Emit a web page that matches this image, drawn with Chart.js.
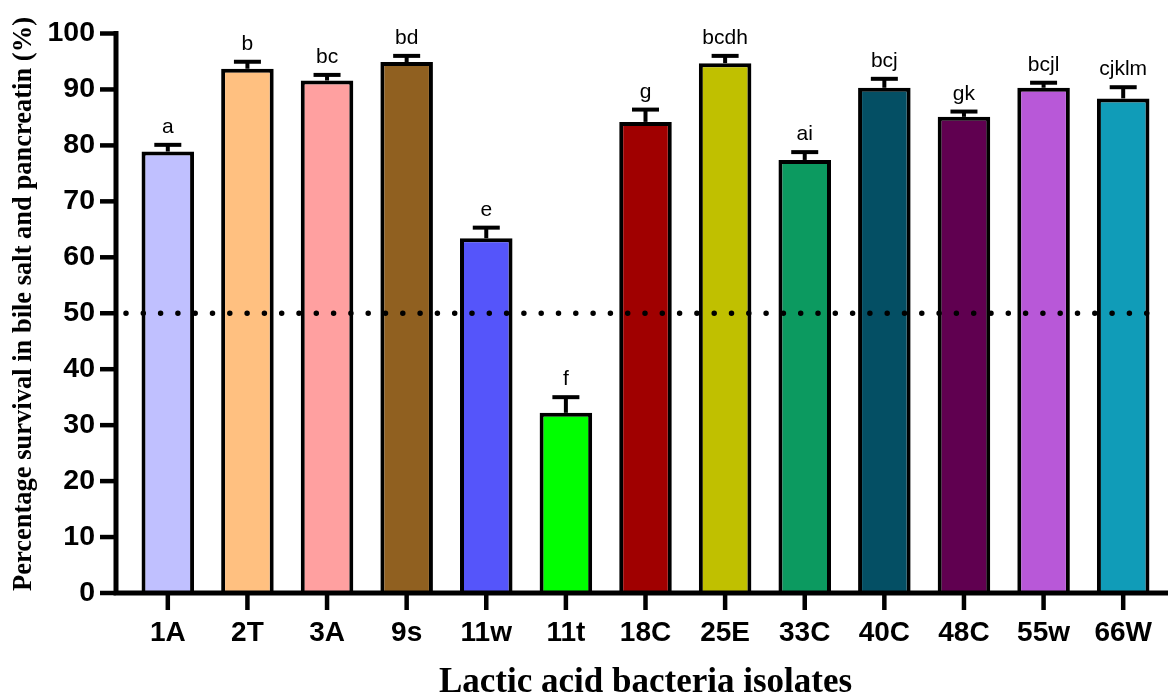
<!DOCTYPE html>
<html>
<head>
<meta charset="utf-8">
<script src="https://cdn.jsdelivr.net/npm/chart.js@4"></script>
<style>
html, body { margin: 0; padding: 0; background: #fff; }
#wrap { width: 1168px; height: 695px; }
</style>
</head>
<body>
<div id="wrap"><canvas id="myChart"></canvas></div>
<script>
const isolates = ["1A", "2T", "3A", "9s", "11w", "11t", "18C", "25E", "33C", "40C", "48C", "55w", "66W"];
const survival = [78.9, 93.7, 91.6, 94.9, 63.4, 32.2, 84.2, 94.7, 77.4, 90.3, 85.1, 90.3, 88.4];
const sem = [1.2, 1.25, 1.0, 1.1, 1.9, 2.8, 2.2, 1.3, 1.4, 1.6, 0.95, 0.9, 2.0];
const letters = ["a", "b", "bc", "bd", "e", "f", "g", "bcdh", "ai", "bcj", "gk", "bcjl", "cjklm"];
const barColors = [
	"rgb(192, 192, 255)",
	"rgb(255, 192, 128)",
	"rgb(255, 160, 160)",
	"rgb(144, 96, 32)",
	"rgb(85, 85, 250)",
	"rgb(0, 255, 0)",
	"rgb(160, 0, 0)",
	"rgb(192, 192, 0)",
	"rgb(12, 154, 96)",
	"rgb(4, 79, 100)",
	"rgb(96, 0, 80)",
	"rgb(184, 88, 216)",
	"rgb(16, 156, 184)",
];
const threshold = 50;
const yTitle = "Percentage survival in bile salt and pancreatin (%)";
const xTitle = "Lactic acid bacteria isolates";

const sans = "'Liberation Sans', Arial, sans-serif";
const serif = "'Liberation Serif', 'Times New Roman', serif";

// error bars, letters, dotted 50% line, the axes and the y title
const extras = {
	id: "extras",
	afterDatasetsDraw(chart) {
		const ctx = chart.ctx;
		const x = chart.scales.x;
		const y = chart.scales.y;
		const area = chart.chartArea;
		const meta = chart.getDatasetMeta(0);
		ctx.save();
		ctx.strokeStyle = "#000";
		ctx.fillStyle = "#000";

		meta.data.forEach((bar, i) => {
			const top = y.getPixelForValue(survival[i]);
			const cap = y.getPixelForValue(survival[i] + sem[i]);
			ctx.lineWidth = 4;
			ctx.lineCap = "butt";
			ctx.beginPath();
			ctx.moveTo(bar.x, top);
			ctx.lineTo(bar.x, cap);
			ctx.stroke();
			ctx.beginPath();
			ctx.moveTo(bar.x - 13.5, cap);
			ctx.lineTo(bar.x + 13.5, cap);
			ctx.stroke();
			ctx.font = "21px " + sans;
			ctx.textAlign = "center";
			ctx.textBaseline = "alphabetic";
			ctx.fillText(letters[i], bar.x, cap - 12);
		});

		const ty = y.getPixelForValue(threshold);
		ctx.lineWidth = 5.5;
		ctx.lineCap = "round";
		ctx.setLineDash([0, 17.3]);
		ctx.beginPath();
		ctx.moveTo(area.left - 2, ty);
		ctx.lineTo(area.right, ty);
		ctx.stroke();
		ctx.setLineDash([]);

		const ax = area.left - 12;
		ctx.lineCap = "butt";
		ctx.lineJoin = "miter";
		ctx.lineWidth = 5;
		ctx.beginPath();
		ctx.moveTo(ax, y.getPixelForValue(100) - 2.5);
		ctx.lineTo(ax, area.bottom);
		ctx.lineTo(chart.width, area.bottom);
		ctx.stroke();

		ctx.lineWidth = 4.5;
		y.ticks.forEach((t) => {
			const py = y.getPixelForValue(t.value);
			ctx.beginPath();
			ctx.moveTo(ax - 16, py);
			ctx.lineTo(ax, py);
			ctx.stroke();
		});
		x.ticks.forEach((t, i) => {
			const px = x.getPixelForTick(i);
			ctx.beginPath();
			ctx.moveTo(px, area.bottom);
			ctx.lineTo(px, area.bottom + 17);
			ctx.stroke();
		});

		ctx.translate(24, 304);
		ctx.rotate(-Math.PI / 2);
		ctx.font = "bold 26.5px " + serif;
		ctx.textAlign = "center";
		ctx.textBaseline = "middle";
		ctx.fillText(yTitle, 0, 0);
		ctx.restore();
	},
};

const barCanvas = document.getElementById("myChart");

const myChart = new Chart(barCanvas, {
	type: "bar",
	data: {
		labels: isolates,
		datasets: [
			{
				data: survival,
				backgroundColor: barColors,
				borderColor: "#000",
				borderWidth: 4,
				barPercentage: 0.66,
				categoryPercentage: 1,
			},
		],
	},
	options: {
		responsive: true,
		maintainAspectRatio: false,
		animation: false,
		layout: {
			autoPadding: false,
			padding: { left: 0, right: 5, top: 33.5, bottom: 0 },
		},
		plugins: {
			legend: { display: false },
			tooltip: { enabled: false },
		},
		scales: {
			x: {
				afterFit(s) {
					s.height = 102;
					s.paddingLeft = 0;
					s.paddingRight = 0;
				},
				grid: { display: false, drawTicks: false },
				border: { display: false },
				ticks: {
					color: "#000",
					padding: 23,
					font: { family: sans, size: 28, weight: "bold" },
				},
				title: {
					display: true,
					text: xTitle,
					color: "#000",
					padding: { top: 0, bottom: 0 },
					font: { family: serif, size: 35, weight: "bold", lineHeight: 0.7 },
				},
			},
			y: {
				min: 0,
				max: 100,
				afterFit(s) {
					s.width = 128;
					s.paddingTop = 0;
					s.paddingBottom = 0;
				},
				grid: { display: false, drawTicks: false },
				border: { display: false },
				ticks: {
					stepSize: 10,
					color: "#000",
					padding: 33,
					font: { family: sans, size: 28.5, weight: "bold" },
				},
			},
		},
	},
	plugins: [extras],
});
</script>
</body>
</html>
